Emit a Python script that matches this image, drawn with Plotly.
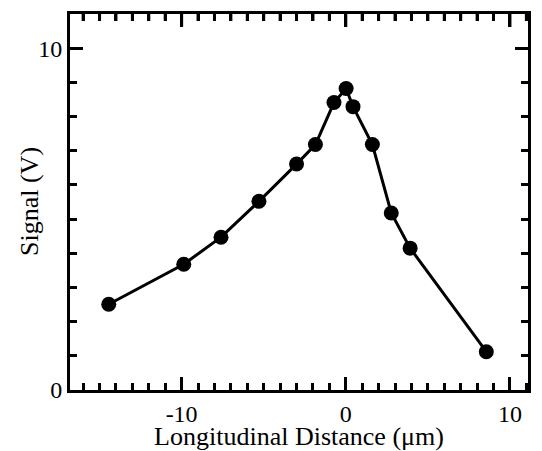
import math
import plotly.graph_objects as go

distance_um = [-14.44, -9.87, -7.60, -5.29, -3.00, -1.85, -0.72, 0.02, 0.44, 1.62, 2.77, 3.92, 8.56]
signal_v = [2.51, 3.68, 4.47, 5.52, 6.61, 7.18, 8.41, 8.82, 8.29, 7.18, 5.18, 4.15, 1.12]

x_tickvals = [-10, 0, 10]
x_ticktext = ["-10", "0", "10"]
y_tickvals = [0, 10]
y_ticktext = ["0", "10"]
x_range = [-16.8, 11.1]
y_range = [0, 11]

FAMILY = "Liberation Serif"
W, H = 542, 451
MARGIN = dict(l=70, r=14, t=14, b=61)
plot_h = H - MARGIN["t"] - MARGIN["b"]
plot_w = W - MARGIN["l"] - MARGIN["r"]
MAJOR_LEN, MINOR_LEN = 13, 7

fig = go.Figure()
fig.add_trace(go.Scatter(
    x=distance_um, y=signal_v, mode="lines+markers",
    line=dict(color="black", width=3),
    marker=dict(color="black", size=15),
    showlegend=False, cliponaxis=False, hoverinfo="skip",
))

# top-edge tick marks (mirror of the x axis), drawn fully inside the frame
all_x_ticks = list(range(math.ceil(x_range[0]), math.floor(x_range[1]) + 1))
minor_top = [v for v in all_x_ticks if v not in x_tickvals]
units_per_px = (y_range[1] - y_range[0]) / plot_h
for vals, length in ((minor_top, MINOR_LEN), (x_tickvals, MAJOR_LEN)):
    fig.add_trace(go.Scatter(
        x=vals, y=[y_range[1] - (length / 2) * units_per_px] * len(vals), mode="markers",
        marker=dict(symbol="line-ns", size=length / 1.4, color="black",
                    line=dict(width=3, color="black")),
        showlegend=False, hoverinfo="skip", cliponaxis=False,
    ))

minor_ticks = dict(dtick=1, ticks="inside", ticklen=MINOR_LEN, tickwidth=3, tickcolor="black", showgrid=False)

axis_common = dict(
    showline=True, linecolor="black", linewidth=3,
    ticks="inside", ticklen=MAJOR_LEN, tickwidth=3, tickcolor="black",
    showgrid=False, zeroline=False, automargin=False,
    tickfont=dict(size=24, family=FAMILY, color="black"),
    minor=minor_ticks,
)

fig.update_layout(
    width=W, height=H,
    margin=MARGIN,
    paper_bgcolor="white", plot_bgcolor="white",
    font=dict(family=FAMILY, color="black"),
    xaxis=dict(
        range=x_range, tickvals=x_tickvals, ticktext=x_ticktext,
        mirror="allticks",
        title=dict(text="Longitudinal Distance (μm)", font=dict(size=26, family=FAMILY, color="black"), standoff=3),
        **axis_common,
    ),
    yaxis=dict(
        range=y_range, tickvals=y_tickvals, ticktext=y_ticktext,
        mirror="allticks",
        **axis_common,
    ),
    annotations=[dict(
        text="Signal (V)", textangle=-90, showarrow=False,
        xref="paper", yref="paper", x=(29 - MARGIN["l"]) / plot_w, y=0.5,
        xanchor="center", yanchor="middle",
        font=dict(size=26, family=FAMILY, color="black"),
    )],
)

fig.write_html(
    "out.html",
    config={"displayModeBar": False},
    post_script="document.body.style.margin='0';document.body.style.overflow='hidden';",
)
